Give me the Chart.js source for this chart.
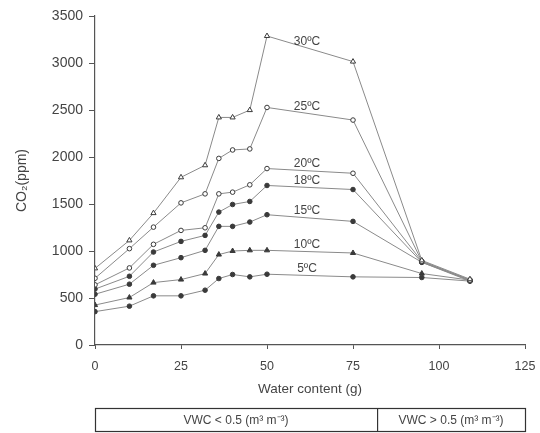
<!DOCTYPE html>
<html>
<head>
<meta charset="utf-8">
<script src="https://cdn.jsdelivr.net/npm/chart.js@4.4.1/dist/chart.umd.min.js"></script>
<style>
  html, body { margin: 0; padding: 0; background: #fff; }
  #wrap { width: 540px; height: 433px; }
</style>
</head>
<body>
<div id="wrap"><canvas id="myChart"></canvas></div>
<script>
// water content (g) at each sampling step
var water = [0, 10, 17, 25, 32, 36, 40, 45, 50, 75, 95, 109];

// CO2 (ppm) per temperature
var co2_30 = [815, 1113, 1403, 1784, 1912, 2421, 2421, 2499, 3287, 3015, 900, 700];
var co2_25 = [710, 1025, 1254, 1512, 1608, 1985, 2075, 2086, 2527, 2393, 890, 690];
var co2_20 = [640, 820, 1071, 1219, 1247, 1608, 1626, 1704, 1877, 1827, 890, 690];
var co2_18 = [595, 731, 989, 1102, 1166, 1414, 1495, 1527, 1697, 1654, 880, 690];
var co2_15 = [540, 647, 848, 929, 1007, 1262, 1262, 1308, 1386, 1315, 880, 680];
var co2_10 = [425, 505, 664, 696, 760, 962, 1000, 1007, 1007, 979, 760, 690];
var co2_5  = [355, 413, 523, 523, 583, 707, 750, 725, 753, 725, 718, 680];

var seriesLabels = ['30ºC', '25ºC', '20ºC', '18ºC', '15ºC', '10ºC', '5ºC'];
var yTicks = [0, 500, 1000, 1500, 2000, 2500, 3000, 3500];
var xTicks = [0, 25, 50, 75, 100, 125];
var zoneLabels = ['VWC < 0.5 (m³ m⁻³)', 'VWC > 0.5 (m³ m⁻³)'];
var zoneSplit = 82;

var lineCol = '#8a8a8a';
var markCol = '#3a3a3a';
var txtCol  = '#444';
var fam = '"Liberation Sans", Arial, sans-serif';

function pts(vals) {
    return vals.map(function(v, i) { return { x: water[i], y: v }; });
}

function ds(label, vals, style, open) {
    return {
        label: label,
        data: pts(vals),
        showLine: true,
        borderColor: lineCol,
        borderWidth: 1,
        pointStyle: style,
        pointRadius: style === 'triangle' ? 3 : 2.3,
        pointBorderColor: markCol,
        pointBorderWidth: 1,
        pointBackgroundColor: open ? '#fff' : markCol
    };
}

// temperature labels above the 50-75 g segment
var tempLabels = {
    id: 'tempLabels',
    afterDatasetsDraw: function(chart) {
        var c = chart.ctx;
        c.save();
        c.font = '12px ' + fam;
        c.fillStyle = txtCol;
        c.textAlign = 'center';
        c.textBaseline = 'bottom';
        chart.data.datasets.forEach(function(d, i) {
            var m = chart.getDatasetMeta(i).data;
            var a = m[8], b = m[9];
            var x = (a.x + b.x) / 2 - 3;
            var y = (a.y + b.y) / 2 - 1;
            c.fillText(d.label, x, y);
        });
        c.restore();
    }
};

// VWC zone box under the x axis
var zoneBox = {
    id: 'zoneBox',
    afterDraw: function(chart) {
        var c = chart.ctx;
        var xs = chart.scales.x;
        var x0 = xs.getPixelForValue(xTicks[0]);
        var x1 = xs.getPixelForValue(xTicks[xTicks.length - 1]);
        var xm = xs.getPixelForValue(zoneSplit);
        var top = chart.chartArea.bottom + 63;
        var h = 23;
        c.save();
        c.strokeStyle = '#333';
        c.lineWidth = 1.2;
        c.strokeRect(x0 + 0.5, top + 0.5, x1 - x0, h);
        c.beginPath();
        c.moveTo(xm + 0.5, top);
        c.lineTo(xm + 0.5, top + h);
        c.stroke();
        c.font = '12px ' + fam;
        c.fillStyle = txtCol;
        c.textAlign = 'center';
        c.textBaseline = 'middle';
        c.fillText(zoneLabels[0], (x0 + xm) / 2, top + h / 2 + 1);
        c.fillText(zoneLabels[1], (xm + x1) / 2, top + h / 2 + 1);
        c.restore();
    }
};

var ctx = document.getElementById('myChart');

var myChart = new Chart(ctx, {
    type: 'scatter',
    data: {
        datasets: [
            ds(seriesLabels[0], co2_30, 'triangle', true),
            ds(seriesLabels[1], co2_25, 'circle', true),
            ds(seriesLabels[2], co2_20, 'circle', true),
            ds(seriesLabels[3], co2_18, 'circle', false),
            ds(seriesLabels[4], co2_15, 'circle', false),
            ds(seriesLabels[5], co2_10, 'triangle', false),
            ds(seriesLabels[6], co2_5, 'circle', false)
        ]
    },
    options: {
        responsive: true,
        maintainAspectRatio: false,
        animation: false,
        layout: { padding: { top: 16, right: 15, bottom: 36, left: 0 } },
        plugins: {
            legend: { display: false },
            tooltip: { enabled: false }
        },
        scales: {
            x: {
                type: 'linear',
                min: 0,
                max: 125,
                afterBuildTicks: function(s) { s.ticks = xTicks.map(function(v) { return { value: v }; }); },
                afterFit: function(s) { s.height = 52; s.paddingRight = 0; s.paddingLeft = 0; },
                border: { display: true, color: '#555', width: 1.2 },
                grid: { display: true, drawOnChartArea: false, tickLength: 4, color: '#555' },
                ticks: {
                    color: txtCol,
                    padding: 10,
                    maxRotation: 0,
                    callback: function(v) { return String(v); },
                    font: { family: fam, size: 12.5 }
                },
                title: {
                    display: true,
                    text: 'Water content (g)',
                    color: txtCol,
                    padding: { top: 4, bottom: 0 },
                    font: { family: fam, size: 13.5 }
                }
            },
            y: {
                min: 0,
                max: 3500,
                afterBuildTicks: function(s) { s.ticks = yTicks.map(function(v) { return { value: v }; }); },
                afterFit: function(s) { s.width = 95; },
                border: { display: true, color: '#555', width: 1.2 },
                grid: { display: true, drawOnChartArea: false, tickLength: 6, color: '#555' },
                ticks: {
                    color: txtCol,
                    padding: 6,
                    callback: function(v) { return String(v); },
                    font: { family: fam, size: 14 }
                },
                title: {
                    display: true,
                    text: 'CO₂(ppm)',
                    color: txtCol,
                    padding: { top: 14, bottom: 0 },
                    font: { family: fam, size: 14 }
                }
            }
        }
    },
    plugins: [tempLabels, zoneBox]
});
</script>
</body>
</html>
